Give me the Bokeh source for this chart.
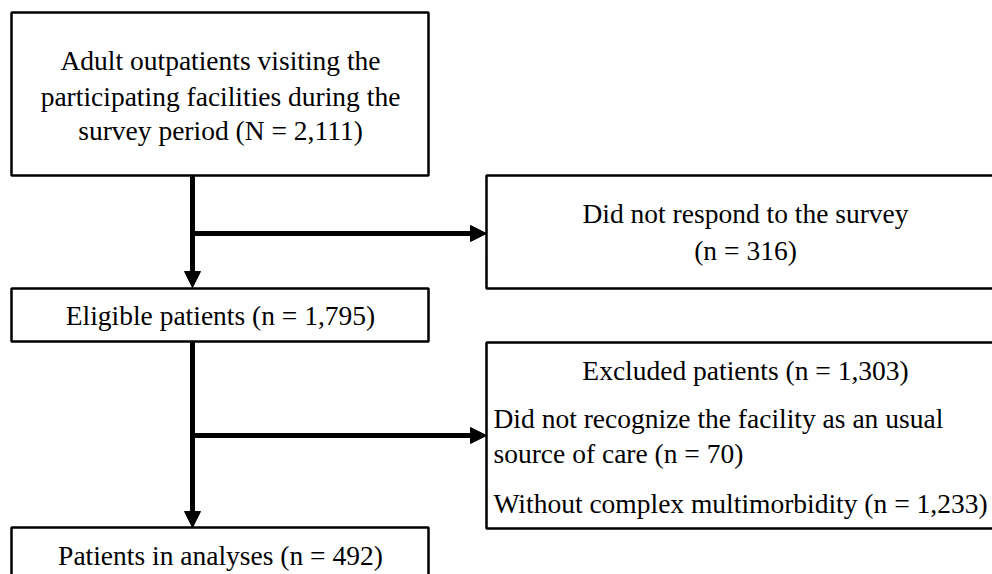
from bokeh.plotting import figure
from bokeh.models import Range1d, Arrow, NormalHead
from bokeh.core.properties import value
from bokeh.embed import file_html
from bokeh.resources import INLINE

# ---- content (texts of the flowchart) ----
top_lines = ["Adult outpatients visiting the",
             "participating facilities during the",
             "survey period (N = 2,111)"]
nonresp_lines = ["Did not respond to the survey", "(n = 316)"]
eligible_lines = ["Eligible patients (n = 1,795)"]
excluded_header = ["Excluded patients (n = 1,303)"]
excluded_items = ["Did not recognize the facility as an usual",
                  "source of care (n = 70)",
                  "Without complex multimorbidity (n = 1,233)"]
analysis_lines = ["Patients in analyses (n = 492)"]

# ---- layout (page pixel coordinates) ----
W, H = 992, 574
p = figure(width=W, height=H, output_backend="svg", toolbar_location=None,
           x_range=Range1d(0, W), y_range=Range1d(H, 0),
           min_border=0, x_axis_type=None, y_axis_type=None)
p.grid.visible = False
p.outline_line_color = None
p.background_fill_color = "white"

FONT = value("Liberation Serif")
FS = "27.5px"

# boxes: left, right, top, bottom
boxes = dict(
    left=[11, 486, 11, 486, 11],
    right=[428, 1005, 428, 1005, 428],
    top=[12, 175, 288, 342, 527],
    bottom=[175, 288, 341, 528, 620],
)
p.quad(left=boxes["left"], right=boxes["right"], top=boxes["top"], bottom=boxes["bottom"],
       fill_color="white", line_color="black", line_width=2.5)

def arrow(x0, y0, x1, y1):
    p.add_layout(Arrow(x_start=x0, y_start=y0, x_end=x1, y_end=y1,
                       line_width=5, line_color="black",
                       end=NormalHead(size=16, fill_color="black", line_color="black", line_width=1)))

arrow(192, 175, 192, 287)
arrow(192, 233, 486, 233)
arrow(192, 341, 192, 527)
arrow(192, 435, 486, 435)

def centered(lines, xc, ys):
    p.text(x=[xc] * len(lines), y=ys, text=lines, text_font=FONT, text_font_size=FS,
           text_align="center", text_baseline="middle", text_color="black")

centered(top_lines, 220, [60, 96, 130])
centered(nonresp_lines, 745, [213, 250])
centered(eligible_lines, 220, [315])
centered(excluded_header, 745, [370])
p.text(x=[493] * 3, y=[418, 453, 503], text=excluded_items, text_font=FONT, text_font_size=FS,
       text_align="left", text_baseline="middle", text_color="black")
centered(analysis_lines, 220, [555])

open("out.html", "w").write(file_html(p, INLINE))
